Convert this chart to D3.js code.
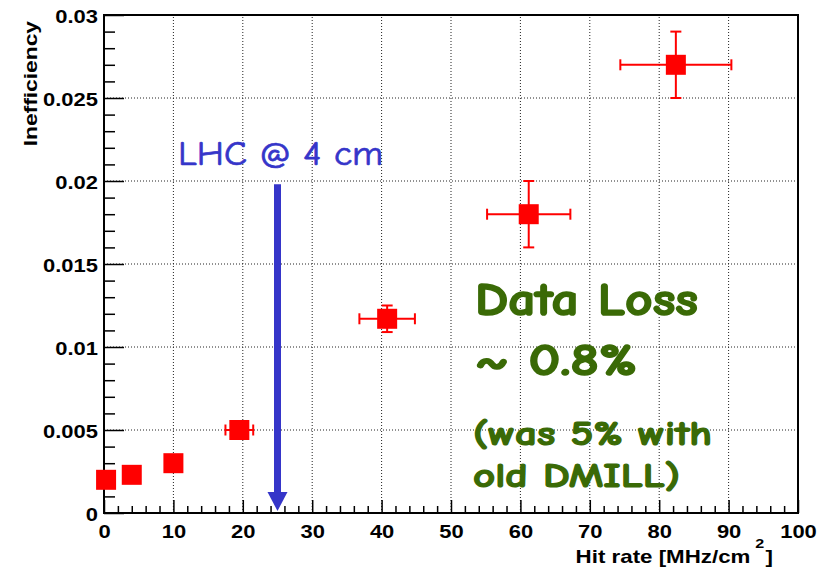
<!DOCTYPE html>
<html><head><meta charset="utf-8">
<script src="https://cdn.jsdelivr.net/npm/d3@7"></script>
<style>body{margin:0;background:#fff}</style>
</head><body><svg id="c" width="824" height="570"></svg>
<script>
// ---- data ----
const hitRate = [0.3, 4.0, 10.0, 19.5, 40.8, 61.2, 82.4];
const inefficiency = [0.0020, 0.0023, 0.0030, 0.0050, 0.0117, 0.0180, 0.0270];
const hitRateErr = [0, 0, 0, 2.0, 4.0, 6.0, 8.0];
const inefficiencyErr = [0, 0, 0, 0.0003, 0.0008, 0.0020, 0.0020];
const xTicks = [0, 10, 20, 30, 40, 50, 60, 70, 80, 90, 100];
const xTickLabels = ["0", "10", "20", "30", "40", "50", "60", "70", "80", "90", "100"];
const yTicks = [0, 0.005, 0.01, 0.015, 0.02, 0.025, 0.03];
const yTickLabels = ["0", "0.005", "0.01", "0.015", "0.02", "0.025", "0.03"];
const xTitle = "Hit rate [MHz/cm";
const yTitle = "Inefficiency";
const arrowHitRate = 25;
const arrowTop = 0.0198;
const lhcLabel = "LHC @ 4 cm";
const noteLines = ["Data Loss", "~ 0.8%", "(was 5% with", "old DMILL)"];

// ---- layout ----
const W = 824, H = 570;
const m = {left: 104, top: 15, right: 26, bottom: 57};
const svg = d3.select("#c");
const x = d3.scaleLinear().domain([0, 100]).range([m.left, W - m.right]);
const y = d3.scaleLinear().domain([0, 0.03]).range([H - m.bottom, m.top]);
const axisFont = "'Liberation Sans', Arial, Helvetica, sans-serif";
const sx = 1.22;

// grid
const g = svg.append("g");
g.selectAll(".gx").data(xTicks.slice(1, -1)).join("line")
  .attr("x1", d => x(d)).attr("x2", d => x(d))
  .attr("y1", y(0)).attr("y2", y(0.03))
  .attr("stroke", "#222").attr("stroke-width", 1).attr("stroke-dasharray", "1,2");
g.selectAll(".gy").data(yTicks.slice(1, -1)).join("line")
  .attr("x1", x(0)).attr("x2", x(100))
  .attr("y1", d => y(d)).attr("y2", d => y(d))
  .attr("stroke", "#222").attr("stroke-width", 1).attr("stroke-dasharray", "1,2");

// minor ticks
const xMinor = d3.range(0, 101, 2).filter(v => v % 10 !== 0);
const yMinor = d3.range(0, 31, 1).filter(v => v % 5 !== 0).map(v => v / 1000);
svg.append("g").attr("transform", `translate(0,${y(0)})`)
  .call(d3.axisBottom(x).tickValues(xMinor).tickSize(-7).tickFormat(""))
  .call(a => a.select(".domain").remove())
  .selectAll("line").attr("stroke", "#000").attr("stroke-width", 1.5);
svg.append("g").attr("transform", `translate(${x(0)},0)`)
  .call(d3.axisLeft(y).tickValues(yMinor).tickSize(-11).tickFormat(""))
  .call(a => a.select(".domain").remove())
  .selectAll("line").attr("stroke", "#000").attr("stroke-width", 1.5);

// major x axis
const xa = svg.append("g").attr("transform", `translate(0,${y(0)})`)
  .call(d3.axisBottom(x).tickValues(xTicks).tickSize(-13).tickPadding(12)
    .tickFormat((d, i) => xTickLabels[i]));
xa.select(".domain").remove();
xa.selectAll("line").attr("stroke", "#000").attr("stroke-width", 1.5);
xa.selectAll("text").attr("font-family", axisFont).attr("font-weight", "bold")
  .attr("font-size", 18).attr("fill", "#000")
  .attr("transform", `scale(${sx},1)`);

// major y axis
const ya = svg.append("g").attr("transform", `translate(${x(0)},0)`)
  .call(d3.axisLeft(y).tickValues(yTicks).tickSize(-20).tickPadding(5)
    .tickFormat((d, i) => yTickLabels[i]));
ya.select(".domain").remove();
ya.selectAll("line").attr("stroke", "#000").attr("stroke-width", 1.5);
ya.selectAll("text").attr("font-family", axisFont).attr("font-weight", "bold")
  .attr("font-size", 18).attr("fill", "#000")
  .attr("transform", `scale(${sx},1)`).attr("dy", "0.4em");

// frame
svg.append("rect").attr("x", x(0)).attr("y", y(0.03))
  .attr("width", x(100) - x(0)).attr("height", y(0) - y(0.03))
  .attr("fill", "none").attr("stroke", "#000").attr("stroke-width", 2);

// axis titles
const xt = svg.append("text").attr("transform", `translate(773,563) scale(1.24,1)`)
  .attr("text-anchor", "end").attr("font-family", axisFont).attr("font-weight", "bold")
  .attr("font-size", 18).attr("fill", "#000");
xt.append("tspan").text(xTitle);
xt.append("tspan").attr("dx", 4).attr("dy", -15).attr("font-size", 13).text("2");
xt.append("tspan").attr("dx", 1).attr("dy", 15).text("]");

svg.append("text").attr("transform", `translate(37,21) rotate(-90) scale(1.2,1)`)
  .attr("text-anchor", "end").attr("font-family", axisFont).attr("font-weight", "bold")
  .attr("font-size", 19).attr("fill", "#000").text(yTitle);

// arrow annotation
const blue = "#3535c9";
svg.append("line").attr("x1", x(arrowHitRate)).attr("x2", x(arrowHitRate))
  .attr("y1", y(arrowTop)).attr("y2", y(0) - 20)
  .attr("stroke", blue).attr("stroke-width", 7);
svg.append("path")
  .attr("d", `M${x(arrowHitRate) - 10},${y(0) - 21} L${x(arrowHitRate) + 10},${y(0) - 21} L${x(arrowHitRate)},${y(0) - 2} Z`)
  .attr("fill", blue);

const comic = "'Comic Sans MS', 'Comic Neue', Lato, 'DejaVu Sans', sans-serif";
svg.append("text").attr("x", 178).attr("y", 165).attr("font-family", comic)
  .attr("font-size", 34).attr("fill", blue).attr("stroke", blue).attr("stroke-width", 0.7)
  .attr("textLength", 205).attr("lengthAdjust", "spacingAndGlyphs").text(lhcLabel);

const green = "#3a6a06";
const notePos = [
  {x: 475, y: 315, s: 47, w: 223},
  {x: 475, y: 375, s: 45, w: 162},
  {x: 473, y: 445, s: 34, w: 239},
  {x: 473, y: 487, s: 35, w: 207}
];
noteLines.forEach((t, i) => {
  svg.append("text").attr("x", notePos[i].x).attr("y", notePos[i].y)
    .attr("font-family", comic).attr("font-weight", "900")
    .attr("font-size", notePos[i].s).attr("fill", green)
    .attr("stroke", green).attr("stroke-width", i < 2 ? 1.6 : 1.2)
    .attr("textLength", notePos[i].w).attr("lengthAdjust", "spacingAndGlyphs").text(t);
});

// data points with error bars
const red = "#ff0000";
const cap = 5.5;
const pts = hitRate.map((v, i) => ({x: v, y: inefficiency[i], ex: hitRateErr[i], ey: inefficiencyErr[i]}));
const pg = svg.append("g");
pts.forEach(p => {
  const cx = x(p.x), cy = y(p.y);
  if (p.ex > 0) {
    const x0 = x(p.x - p.ex), x1 = x(p.x + p.ex);
    pg.append("line").attr("x1", x0).attr("x2", x1).attr("y1", cy).attr("y2", cy)
      .attr("stroke", red).attr("stroke-width", 2);
    [x0, x1].forEach(xx => pg.append("line").attr("x1", xx).attr("x2", xx)
      .attr("y1", cy - cap).attr("y2", cy + cap).attr("stroke", red).attr("stroke-width", 2));
  }
  if (p.ey > 0) {
    const y0 = y(p.y - p.ey), y1 = y(p.y + p.ey);
    pg.append("line").attr("x1", cx).attr("x2", cx).attr("y1", y0).attr("y2", y1)
      .attr("stroke", red).attr("stroke-width", 2);
    [y0, y1].forEach(yy => pg.append("line").attr("x1", cx - cap).attr("x2", cx + cap)
      .attr("y1", yy).attr("y2", yy).attr("stroke", red).attr("stroke-width", 2));
  }
});
pg.selectAll("rect").data(pts).join("rect")
  .attr("x", d => x(d.x) - 10).attr("y", d => y(d.y) - 10)
  .attr("width", 20).attr("height", 20).attr("fill", red);
</script>
</body></html>
